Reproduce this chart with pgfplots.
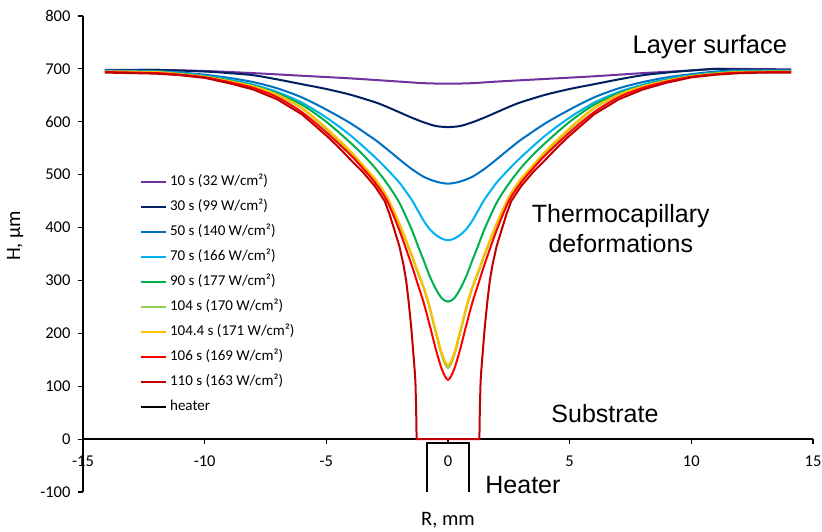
\documentclass[border=0pt]{standalone}
\usepackage{fontspec}
\setmainfont{Carlito}
\newfontfamily\arialfont{Liberation Sans}
\usepackage{pgfplots}
\pgfplotsset{compat=1.18}

\definecolor{c10}{HTML}{7030A0}
\definecolor{c30}{HTML}{002060}
\definecolor{c50}{HTML}{0070C0}
\definecolor{c70}{HTML}{00B0F0}
\definecolor{c90}{HTML}{00B050}
\definecolor{c104}{HTML}{92D050}
\definecolor{c1044}{HTML}{FFC000}
\definecolor{c106}{HTML}{FF0000}
\definecolor{c110}{HTML}{C00000}

\begin{document}
\begin{tikzpicture}
\begin{axis}[
  scale only axis,
  width=730pt, height=476pt,
  xmin=-15, xmax=15, ymin=-100, ymax=800,
  axis x line*=middle, axis y line*=left,
  hide obscured x ticks=false, hide obscured y ticks=false,
  xtick={-15,-10,...,15}, ytick={-100,0,...,800},
  minor tick num=0,
  tick align=outside, major tick length=5pt,
  axis line style={black, line width=1.4pt},
  every tick/.style={black, line width=1.2pt},
  tick label style={font=\fontsize{16.5}{19}\selectfont, /pgf/number format/assume math mode=true},
  yticklabel style={xshift=-4pt},
  xticklabel style={yshift=-8pt},
  xlabel={R, mm}, ylabel={H, µm},
  label style={font=\fontsize{20.5}{24}\selectfont},
  xlabel style={at={(axis description cs:0.5,-0.059)}, anchor=center},
  ylabel style={at={(axis description cs:-0.093,0.538)}, anchor=center},
  clip=false,
  every axis plot/.append style={line width=2pt},
  legend cell align=left,
  legend image code/.code={\draw[#1, sharp plot] (0pt,0pt) -- (25pt,0pt);},
  legend style={draw=none, fill=none, inner sep=0pt,
    at={(axis description cs:0.078,0.668)}, anchor=north west,
    font=\fontsize{15}{18}\selectfont,
    nodes={inner sep=0pt, text height=11pt, text depth=4pt},
    row sep=10pt, column sep=3pt},
]

% 10 s
\addplot[c10, smooth, tension=0.5] coordinates {
(-14.1,698)(-12,698)(-10,696)(-8,692)(-6,687)(-4,682)(-2,676)(-1,673)(0,672)
(1,673)(2,676)(4,681)(6,686)(8,692)(10,697)(11,700)(12,700)(14.1,699)};
\addlegendentry{10 s (32 W/cm²)}

% 30 s
\addplot[c30, smooth, tension=0.5] coordinates {
(-14.1,697)(-12,698)(-10,695)(-9,692)(-8,688)(-7,680)(-6,671)(-5,662)(-4,651)
(-3,637)(-2.5,628)(-2,618)(-1.5,608)(-1,599)(-0.5,592)(0,590)
(0.5,592)(1,599)(1.5,608)(2,618)(2.5,628)(3,637)(4,651)(5,662)(6,671)
(7,680)(8,688)(9,693)(10,697)(11,700)(12,699)(14.1,698)};
\addlegendentry{30 s (99 W/cm²)}

% 50 s
\addplot[c50, smooth, tension=0.5] coordinates {
(-14.1,697)(-12,696)(-11,693)(-10,689)(-9,683)(-8,675)(-7,663)(-6,646)(-5,623)
(-4,597)(-3,566)(-2.5,548)(-2,529)(-1.5,511)(-1,496)(-0.5,487)(0,483)
(0.5,487)(1,496)(1.5,511)(2,529)(2.5,548)(3,566)(4,597)(5,623)(6,646)
(7,663)(8,675)(9,684)(10,690)(11,695)(12,697)(14.1,697)};
\addlegendentry{50 s (140 W/cm²)}

% 70 s
\addplot[c70, smooth, tension=0.5] coordinates {
(-14.1,696)(-12,695)(-11,692)(-10,687)(-9,680)(-8,670)(-7,656)(-6,636)(-5,608)
(-4,574)(-3,533)(-2.5,510)(-2,485)(-1.5,453)(-1.25,433)(-1,413)(-0.75,397)
(-0.5,386)(-0.25,379)(0,376)
(0.25,379)(0.5,386)(0.75,397)(1,413)(1.25,433)(1.5,453)(2,485)(2.5,510)(3,533)
(4,574)(5,608)(6,636)(7,656)(8,670)(9,681)(10,688)(11,693)(12,696)(14.1,696)};
\addlegendentry{70 s (166 W/cm²)}

% 90 s
\addplot[c90, smooth, tension=0.5] coordinates {
(-14.1,695)(-12,694)(-11,691)(-10,686)(-9,678)(-8,668)(-7,653)(-6,632)(-5,600)
(-4,560)(-3.5,538)(-3,513)(-2.5,483)(-2,447)(-1.5,397)(-1.25,367)(-1,338)
(-0.75,308)(-0.5,284)(-0.25,266)(0,260)
(0.25,266)(0.5,284)(0.75,308)(1,338)(1.25,367)(1.5,397)(2,447)(2.5,483)(3,513)
(3.5,538)(4,560)(5,600)(6,632)(7,653)(8,668)(9,679)(10,687)(11,692)(12,695)(14.1,695)};
\addlegendentry{90 s (177 W/cm²)}

% 104 s
\addplot[c104, smooth, tension=0.5] coordinates {
(-14.1,695)(-12,693)(-11,690)(-10,685)(-9,676)(-8,666)(-7,650)(-6,625)(-5,586)
(-4,542)(-3.5,516)(-3,490)(-2.5,455)(-2,405)(-1.5,347)(-1.25,315)(-1,285)
(-0.75,246)(-0.5,200)(-0.25,157)(0,134)
(0.25,157)(0.5,200)(0.75,246)(1,285)(1.25,315)(1.5,347)(2,405)(2.5,455)(3,490)
(3.5,516)(4,542)(5,586)(6,625)(7,650)(8,666)(9,677)(10,686)(11,691)(12,694)(14.1,695)};
\addlegendentry{104 s (170 W/cm²)}

% 104.4 s
\addplot[c1044, smooth, tension=0.5] coordinates {
(-14.1,695)(-12,694)(-11,690)(-10,685)(-9,677)(-8,667)(-7,651)(-6,626)(-5,588)
(-4,544)(-3.5,518)(-3,492)(-2.5,458)(-2,408)(-1.5,350)(-1.25,318)(-1,288)
(-0.75,250)(-0.5,205)(-0.25,162)(0,140)
(0.25,162)(0.5,205)(0.75,250)(1,288)(1.25,318)(1.5,350)(2,408)(2.5,458)(3,492)
(3.5,518)(4,544)(5,588)(6,626)(7,651)(8,667)(9,678)(10,686)(11,691)(12,694)(14.1,695)};
\addlegendentry{104.4 s (171 W/cm²)}

% 106 s
\addplot[c106, smooth, tension=0.5] coordinates {
(-14.1,694)(-12,692)(-11,689)(-10,684)(-9,675)(-8,664)(-7,646)(-6,618)(-5,580)
(-4,537)(-3.5,512)(-3,485)(-2.5,450)(-2,395)(-1.5,330)(-1.25,294)(-1,258)
(-0.75,215)(-0.5,170)(-0.25,132)(0,112)
(0.25,132)(0.5,170)(0.75,215)(1,258)(1.25,294)(1.5,330)(2,395)(2.5,450)(3,485)
(3.5,512)(4,537)(5,580)(6,618)(7,646)(8,664)(9,676)(10,685)(11,690)(12,693)(14.1,694)};
\addlegendentry{106 s (169 W/cm²)}

% 110 s
\addplot[c110] coordinates {
(-14.1,693)(-13,692)(-12,691)(-11,688)(-10,683)(-9,673)(-8,661)(-7,642)(-6,614)
(-5,574)(-4.5,552)(-4,528)(-3.5,505)(-3,478)(-2.6,450)(-2.4,425)(-2.2,395)
(-2,365)(-1.83,330)(-1.72,300)(-1.63,265)(-1.55,230)(-1.49,200)(-1.43,165)
(-1.38,137)(-1.34,110)(-1.31,60)(-1.29,0)
(1.29,0)(1.31,60)(1.34,110)(1.38,137)(1.43,165)(1.49,200)(1.55,230)(1.63,265)
(1.72,300)(1.83,330)(2,365)(2.2,395)(2.4,425)(2.6,450)(3,478)(3.5,505)(4,528)
(4.5,552)(5,574)(6,614)(7,642)(8,661)(9,674)(10,684)(11,689)(12,692)(13,693)(14.1,693)};
\addlegendentry{110 s (163 W/cm²)}

% heater
\addplot[black] coordinates {(-0.85,-100)(-0.85,-8)(0.85,-8)(0.85,-100)};
\addlegendentry{heater}

\node[font=\arialfont\fontsize{25.5}{30}\selectfont] at (axis cs:10.76,741) {Layer surface};
\node[font=\arialfont\fontsize{25}{30}\selectfont, align=center] at (axis cs:7.1,399) {Thermocapillary\\deformations};
\node[font=\arialfont\fontsize{25}{30}\selectfont] at (axis cs:6.45,49) {Substrate};
\node[font=\arialfont\fontsize{25}{30}\selectfont] at (axis cs:3.08,-87) {Heater};
\end{axis}
\pgfresetboundingbox
\path[use as bounding box] (-83pt,-40pt) rectangle (739pt,492pt);
\end{tikzpicture}
\end{document}
